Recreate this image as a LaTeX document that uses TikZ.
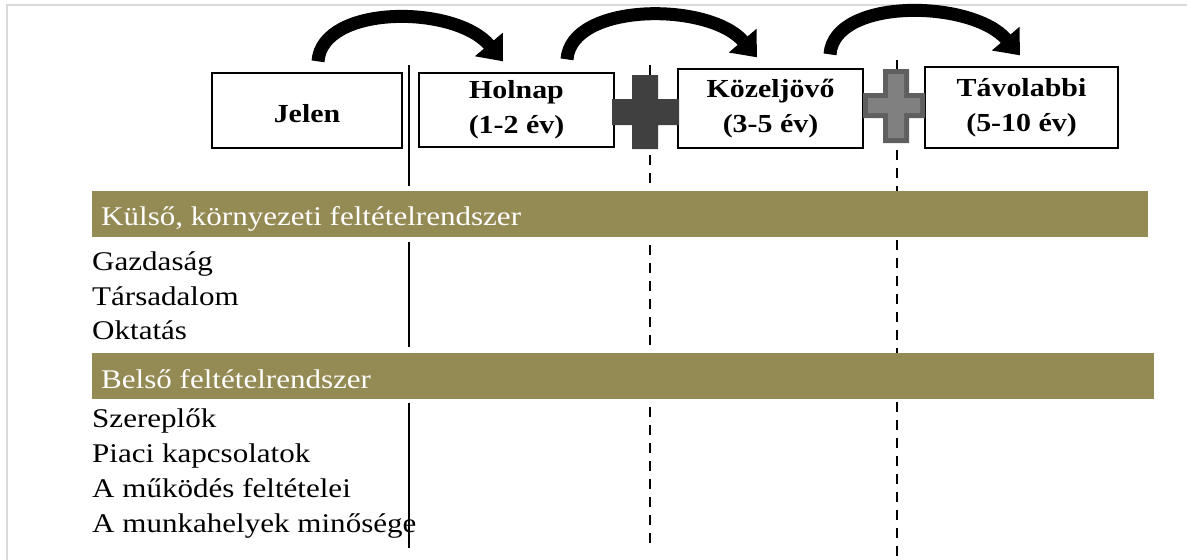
\documentclass[tikz,border=0pt]{standalone}
\usepackage{fontspec}
\setmainfont[FakeStretch=1.15]{Liberation Serif}
\usetikzlibrary{arrows.meta}
\definecolor{bandolive}{HTML}{948A54}
\definecolor{framegray}{HTML}{DADADA}
\definecolor{plusdark}{HTML}{404040}
\definecolor{plusedge}{HTML}{5F5F5F}
\definecolor{plusfill}{HTML}{808080}

\begin{document}
\begin{tikzpicture}[x=1pt,y=-1pt,
  period/.style={draw=black, line width=1.3pt, fill=white, inner sep=0pt,
    font=\fontsize{26}{35}\selectfont\bfseries, align=center,
    execute at begin node=\rule{0pt}{24pt}},
  bandbox/.style={fill=bandolive, inner sep=0pt, anchor=north west, minimum height=46pt},
  bandtext/.style={text=white, font=\fontsize{27}{34}\selectfont, anchor=base west, inner sep=0pt},
  item/.style={font=\fontsize{27}{34}\selectfont, anchor=base west, inner sep=0pt},
  leap/.style={line width=13pt, -{Triangle[length=22pt,width=35pt]}},
  divider/.style={line width=2pt},
  milestone/.style={line width=2pt, dash pattern=on 10pt off 8pt},
]
\useasboundingbox (0,0) rectangle (1187,560);

% page frame
\draw[framegray, line width=2pt] (6.5,560) -- (6.5,5) -- (1187,5);

% time-horizon milestones
\coordinate (m1top) at (650,65);
\coordinate (m1bot) at (650,546);
\coordinate (m2top) at (897,60);
\coordinate (m2bot) at (897,558);
\draw[milestone] (m1top) -- (m1bot);
\draw[milestone] (m2top) -- (m2bot);

% present / future divider
\coordinate (d1) at (409,65);
\coordinate (d2) at (409,186);
\coordinate (d3) at (409,242);
\coordinate (d4) at (409,347);
\coordinate (d5) at (409,403);
\coordinate (d6) at (409,548);
\draw[divider] (d1) -- (d2);
\draw[divider] (d3) -- (d4);
\draw[divider] (d5) -- (d6);

% period boxes
\node[period, minimum width=190pt, minimum height=75pt] (jel) at (307,110.5) {Jelen};
\node[period, minimum width=195pt, minimum height=74pt] (hol) at (516.5,110) {Holnap\\(1-2 év)};
\node[period, minimum width=185pt, minimum height=79pt] (koz) at (770.5,108.5) {Közeljövő\\(3-5 év)};
\node[period, minimum width=193pt, minimum height=81pt] (tav) at (1021.5,107.5) {Távolabbi\\(5-10 év)};

% plus signs between the periods
\fill[plusdark] (632,75) -- (658,75) -- (658,99) -- (679,99) -- (679,125) -- (658,125)
  -- (658,149) -- (632,149) -- (632,125) -- (612,125) -- (612,99) -- (632,99) -- cycle;
\fill[plusedge] (883,69) -- (909,69) -- (909,93) -- (925,93) -- (925,118) -- (909,118)
  -- (909,143) -- (883,143) -- (883,118) -- (863,118) -- (863,93) -- (883,93) -- cycle;
\fill[plusfill] (888,74) -- (904,74) -- (904,98) -- (920,98) -- (920,113) -- (904,113)
  -- (904,138) -- (888,138) -- (888,113) -- (868,113) -- (868,98) -- (888,98) -- cycle;

% transitions
\draw[leap] ([xshift=11pt,yshift=11pt]jel.north) .. controls +(4,-57) and +(-48,-57) .. ([xshift=-13.5pt,yshift=11pt]hol.north);
\draw[leap] ([xshift=50.5pt,yshift=13pt]hol.north) .. controls +(4,-57) and +(-48,-56) .. ([xshift=-13.5pt,yshift=11pt]koz.north);
\draw[leap] ([xshift=59.5pt,yshift=14pt]koz.north) .. controls +(4,-57) and +(-48,-56) .. ([xshift=-1.5pt,yshift=11pt]tav.north);

% external conditions
\node[bandbox, minimum width=1056pt] (ext) at (92,191) {};
\node[bandtext] (extt) at (101,225) {Külső, környezeti feltételrendszer};
\node[item] (i1) at (92,270) {Gazdaság};
\node[item] (i2) at (92,305) {Társadalom};
\node[item] (i3) at (92,339) {Oktatás};

% internal conditions
\node[bandbox, minimum width=1062pt] (int) at (92,353) {};
\node[bandtext] (intt) at (101,388) {Belső feltételrendszer};
\node[item] (j1) at (92,427) {Szereplők};
\node[item] (j2) at (92,462) {Piaci kapcsolatok};
\node[item] (j3) at (92,497) {A működés feltételei};
\node[item] (j4) at (92,532) {A munkahelyek minősége};
\end{tikzpicture}
\end{document}
